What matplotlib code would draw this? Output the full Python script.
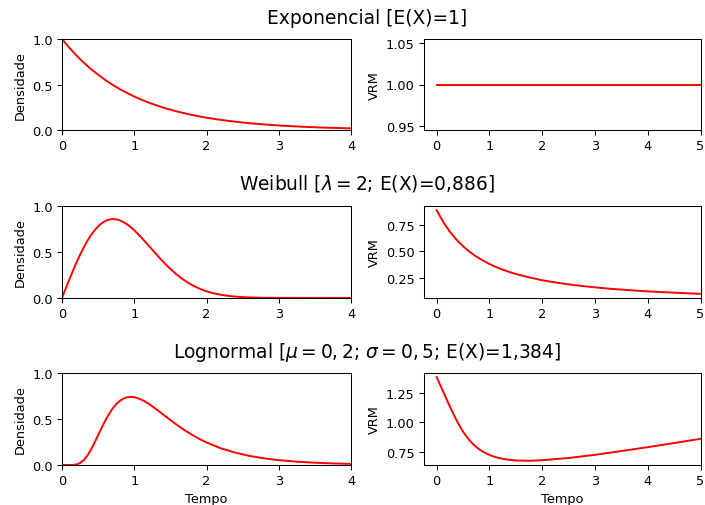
import matplotlib
matplotlib.use("Agg")
import matplotlib.pyplot as plt

# densidade, tempo de 0 a 4
exp_t = [0, 0.1, 0.2, 0.3, 0.4, 0.5, 0.6, 0.7, 0.8, 0.9, 1.0, 1.1, 1.2, 1.3, 1.4,
         1.5, 1.6, 1.7, 1.8, 1.9, 2.0, 2.2, 2.4, 2.6, 2.8, 3.0, 3.2, 3.4, 3.6, 3.8, 4.0]
exp_dens = [1.0, 0.905, 0.819, 0.741, 0.670, 0.607, 0.549, 0.497, 0.449, 0.407,
            0.368, 0.333, 0.301, 0.273, 0.247, 0.223, 0.202, 0.183, 0.165, 0.150,
            0.135, 0.111, 0.091, 0.074, 0.061, 0.050, 0.041, 0.033, 0.027, 0.022, 0.018]
exp_vrm_t = [0, 5]
exp_vrm = [1.0, 1.0]

wei_t = [0, 0.05, 0.1, 0.15, 0.2, 0.25, 0.3, 0.35, 0.4, 0.45, 0.5, 0.55, 0.6, 0.65,
         0.7, 0.75, 0.8, 0.85, 0.9, 0.95, 1.0, 1.05, 1.1, 1.15, 1.2, 1.25, 1.3, 1.35,
         1.4, 1.45, 1.5, 1.55, 1.6, 1.65, 1.7, 1.75, 1.8, 1.85, 1.9, 1.95, 2.0, 2.1,
         2.2, 2.3, 2.4, 2.5, 2.6, 2.8, 3.0, 4.0]
wei_dens = [0, 0.100, 0.198, 0.293, 0.384, 0.470, 0.548, 0.619, 0.682, 0.735,
            0.779, 0.813, 0.837, 0.852, 0.858, 0.855, 0.844, 0.825, 0.801, 0.771,
            0.736, 0.697, 0.656, 0.613, 0.569, 0.524, 0.480, 0.436, 0.394, 0.354,
            0.316, 0.281, 0.247, 0.217, 0.189, 0.164, 0.141, 0.121, 0.103, 0.087,
            0.073, 0.051, 0.035, 0.023, 0.015, 0.010, 0.006, 0.002, 0.001, 0.0]
wei_vrm_t = [0, 0.125, 0.25, 0.375, 0.5, 0.625, 0.75, 0.875, 1.0, 1.125, 1.25,
             1.375, 1.5, 1.75, 2.0, 2.25, 2.5, 2.75, 3.0, 3.25, 3.5, 3.75, 4.0,
             4.25, 4.5, 4.75, 5.0]
wei_vrm = [0.886, 0.774, 0.683, 0.608, 0.546, 0.494, 0.449, 0.412, 0.379, 0.350,
           0.326, 0.304, 0.285, 0.253, 0.226, 0.205, 0.187, 0.172, 0.159, 0.147,
           0.138, 0.129, 0.121, 0.115, 0.109, 0.103, 0.098]

logn_t = [0, 0.1, 0.15, 0.2, 0.25, 0.3, 0.35, 0.4, 0.45, 0.5, 0.55, 0.6, 0.65, 0.7,
          0.75, 0.8, 0.85, 0.9, 0.95, 1.0, 1.05, 1.1, 1.15, 1.2, 1.25, 1.3, 1.35,
          1.4, 1.45, 1.5, 1.55, 1.6, 1.7, 1.8, 1.9, 2.0, 2.2, 2.4, 2.6, 2.8, 3.0,
          3.25, 3.5, 3.75, 4.0]
logn_dens = [0, 0.0, 0.001, 0.006, 0.021, 0.052, 0.100, 0.165, 0.241, 0.324,
             0.406, 0.484, 0.554, 0.613, 0.661, 0.697, 0.722, 0.736, 0.740, 0.737,
             0.726, 0.710, 0.689, 0.665, 0.638, 0.609, 0.579, 0.549, 0.519, 0.489,
             0.460, 0.431, 0.377, 0.328, 0.284, 0.245, 0.181, 0.134, 0.098, 0.072,
             0.053, 0.036, 0.025, 0.017, 0.012]
logn_vrm_t = [0, 0.1, 0.2, 0.25, 0.3, 0.375, 0.4, 0.45, 0.5, 0.55, 0.625, 0.7,
              0.75, 0.8, 0.875, 0.9, 1.0, 1.125, 1.25, 1.375, 1.5, 1.75, 2.0, 2.25,
              2.5, 3.0, 3.5, 4.0, 4.5, 5.0]
logn_vrm = [1.384, 1.284, 1.184, 1.135, 1.087, 1.019, 0.998, 0.958, 0.921, 0.889,
            0.846, 0.811, 0.791, 0.773, 0.751, 0.745, 0.723, 0.703, 0.690, 0.681,
            0.676, 0.673, 0.678, 0.688, 0.697, 0.724, 0.756, 0.789, 0.824, 0.860]

titles = ["Exponencial [E(X)=1]",
          r"Weibull [$\lambda = 2$; E(X)=0,886]",
          r"Lognormal [$\mu = 0,2$; $\sigma = 0,5$; E(X)=1,384]"]

rows = [(exp_t, exp_dens, exp_vrm_t, exp_vrm),
        (wei_t, wei_dens, wei_vrm_t, wei_vrm),
        (logn_t, logn_dens, logn_vrm_t, logn_vrm)]

W, H = 705, 506
DPI = 93
fig = plt.figure(figsize=(W / DPI, H / DPI), dpi=DPI)

# pixel boxes of each row (top, bottom, title centre)
row_px = [(40, 131, 18), (207, 299, 184), (374, 466, 353)]

for i, (t, dens, vt, vrm) in enumerate(rows):
    top, bot, ty = row_px[i]
    b = 1 - bot / H
    h = (bot - top) / H
    ax1 = fig.add_axes([62 / W, b, 289 / W, h])
    ax2 = fig.add_axes([423.5 / W, b, 277 / W, h])

    ax1.plot(t, dens, color="red", lw=1.5)
    ax1.set_xlim(0, 4)
    ax1.set_ylim(0, 1)
    ax1.set_ylabel("Densidade")

    ax2.plot(vt, vrm, color="red", lw=1.5)
    ax2.set_xlim(-0.25, 5)
    ax2.set_ylabel("VRM")

    if i == 2:
        ax1.set_xlabel("Tempo")
        ax2.set_xlabel("Tempo")

    fig.text(367 / W, 1 - ty / H, titles[i], ha="center", va="center", fontsize=14.4)

fig.savefig("out.png", dpi=DPI)
